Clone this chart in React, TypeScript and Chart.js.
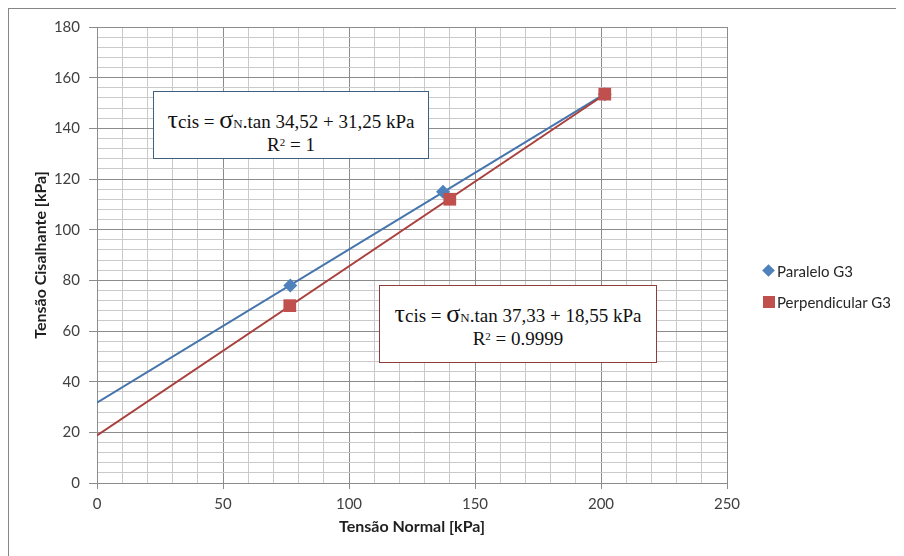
import React, { useEffect, useRef } from "react";
import { Chart, registerables } from "chart.js";

Chart.register(...registerables);

// ---- data ----
const paraleloX = [76.7, 137.3, 201.5];
const paraleloY = [78.0, 115.0, 153.5];
const perpX = [76.5, 140.0, 201.5];
const perpY = [70.0, 112.0, 153.5];

const seriesNames = ["Paralelo G3", "Perpendicular G3"];
const eq1 = ["34,52", "31,25", "1"];
const eq2 = ["37,33", "18,55", "0.9999"];

const xTitle = "Tensão Normal [kPa]";
const yTitle = "Tensão Cisalhante [kPa]";
const xMin = 0, xMax = 250, xMajor = 50, xMinor = 10;
const yMin = 0, yMax = 180, yMajor = 20, yMinor = 4;

const blueMarker = "#4F81BD";
const redMarker = "#C0504D";
const blueLine = "#4675AD";
const redLine = "#A9403D";
const majorGrid = "#8C8C8C";
const minorGrid = "#CACACA";

// least-squares trendline (what the spreadsheet trendline is)
function trend(xs: number[], ys: number[]) {
  const n = xs.length;
  const mx = xs.reduce((a, b) => a + b, 0) / n;
  const my = ys.reduce((a, b) => a + b, 0) / n;
  let sxy = 0, sxx = 0;
  for (let i = 0; i < n; i++) {
    sxy += (xs[i] - mx) * (ys[i] - my);
    sxx += (xs[i] - mx) * (xs[i] - mx);
  }
  const m = sxy / sxx;
  const b = my - m * mx;
  const x1 = Math.max(...xs);
  return [
    { x: 0, y: b },
    { x: x1, y: b + m * x1 },
  ];
}

const pts = (xs: number[], ys: number[]) => xs.map((x, i) => ({ x, y: ys[i] }));

const W = 895;
const H = 547;

export default function App() {
  const ref = useRef<HTMLCanvasElement | null>(null);

  useEffect(() => {
    if (!ref.current) return;
    const isMajor = (v: number, step: number) => Math.abs(v % step) < 1e-6;
    const chart = new Chart(ref.current, {
      type: "scatter",
      data: {
        datasets: [
          {
            label: seriesNames[0] + " trend",
            data: trend(paraleloX, paraleloY),
            showLine: true,
            borderColor: blueLine,
            borderWidth: 2,
            pointRadius: 0,
            order: 3,
          },
          {
            label: seriesNames[1] + " trend",
            data: trend(perpX, perpY),
            showLine: true,
            borderColor: redLine,
            borderWidth: 2,
            pointRadius: 0,
            order: 2,
          },
          {
            label: seriesNames[0],
            data: pts(paraleloX, paraleloY),
            pointStyle: "rectRot",
            pointRadius: 7,
            backgroundColor: blueMarker,
            borderColor: blueMarker,
            borderWidth: 0,
            order: 1,
          },
          {
            label: seriesNames[1],
            data: pts(perpX, perpY),
            pointStyle: "rect",
            pointRadius: 9,
            backgroundColor: redMarker,
            borderColor: redMarker,
            borderWidth: 0,
            order: 0,
          },
        ],
      },
      options: {
        animation: false,
        responsive: false,
        maintainAspectRatio: false,
        devicePixelRatio: 1,
        layout: { padding: { top: 18, right: 177, left: 0, bottom: 0 } },
        plugins: {
          legend: { display: false },
          tooltip: { enabled: false },
        },
        scales: {
          x: {
            type: "linear",
            min: xMin,
            max: xMax,
            afterFit: (s: any) => {
              s.height = 73;
            },
            ticks: {
              stepSize: xMinor,
              autoSkip: false,
              maxRotation: 0,
              padding: 6,
              color: "#404040",
              font: { family: "Lato", size: 15 },
              callback: (v: any) => (isMajor(Number(v), xMajor) ? String(v) : ""),
            },
            grid: {
              color: (c: any) => (isMajor(c.tick.value, xMajor) ? majorGrid : minorGrid),
              tickColor: (c: any) => (isMajor(c.tick.value, xMajor) ? majorGrid : "rgba(0,0,0,0)"),
              tickLength: 6,
              lineWidth: 1,
            },
            border: { color: majorGrid },
            title: {
              display: true,
              text: xTitle,
              color: "#1F1F1F",
              font: { family: "Lato", size: 16, weight: "bold" },
              padding: { top: 20, bottom: 20 },
            },
          },
          y: {
            type: "linear",
            min: yMin,
            max: yMax,
            afterFit: (s: any) => {
              s.width = 88;
            },
            ticks: {
              stepSize: yMinor,
              autoSkip: false,
              padding: 9,
              color: "#404040",
              font: { family: "Lato", size: 15 },
              callback: (v: any) => (isMajor(Number(v), yMajor) ? String(v) : ""),
            },
            grid: {
              color: (c: any) => (isMajor(c.tick.value, yMajor) ? majorGrid : minorGrid),
              tickColor: (c: any) => (isMajor(c.tick.value, yMajor) ? majorGrid : "rgba(0,0,0,0)"),
              tickLength: 8,
              lineWidth: 1,
            },
            border: { color: majorGrid },
            title: {
              display: true,
              text: yTitle,
              color: "#1F1F1F",
              font: { family: "Lato", size: 16, weight: "bold" },
              padding: { top: 22, bottom: 22 },
            },
          },
        },
      },
    } as any);
    return () => chart.destroy();
  }, []);

  const serif = "'Liberation Serif', 'Times New Roman', serif";
  const boxText = (angle: string, inter: string, r2: string) => (
    <>
      <div style={{ height: 23, lineHeight: "23px", whiteSpace: "nowrap" }}>
        <span style={{ fontSize: 26 }}>τ</span>cis = <span style={{ fontSize: 26 }}>σ</span>
        <span style={{ fontSize: 13 }}>N</span>.tan {angle} + {inter} kPa
      </div>
      <div style={{ height: 23, lineHeight: "23px", whiteSpace: "nowrap" }}>
        R<span style={{ fontSize: 11, verticalAlign: "5px" }}>2</span> = {r2}
      </div>
    </>
  );

  const boxBase: React.CSSProperties = {
    position: "absolute",
    background: "#FFFFFF",
    boxSizing: "border-box",
    display: "flex",
    flexDirection: "column",
    alignItems: "center",
    paddingTop: 16,
    fontFamily: serif,
    fontSize: 19,
    color: "#111111",
  };

  const legendText: React.CSSProperties = {
    position: "absolute",
    left: 768,
    fontFamily: "Lato",
    fontSize: 15,
    color: "#262626",
    lineHeight: "18px",
    whiteSpace: "nowrap",
  };

  return (
    <div
      style={{
        position: "relative",
        width: W,
        height: H,
        borderTop: "1px solid #868686",
        borderLeft: "1px solid #868686",
        background: "#FFFFFF",
      }}
    >
      <canvas
        ref={ref}
        width={W}
        height={H}
        style={{ position: "absolute", left: 0, top: 0, width: W, height: H }}
      />
      <div style={{ ...boxBase, left: 144, top: 82, width: 276, height: 68, border: "1px solid #3F5F80" }}>
        {boxText(eq1[0], eq1[1], eq1[2])}
      </div>
      <div style={{ ...boxBase, left: 370, top: 276, width: 278, height: 78, border: "1px solid #8E3B3B" }}>
        {boxText(eq2[0], eq2[1], eq2[2])}
      </div>
      {/* legend */}
      <div
        style={{
          position: "absolute",
          left: 755,
          top: 257,
          width: 9,
          height: 9,
          background: blueMarker,
          transform: "rotate(45deg)",
        }}
      />
      <div style={{ ...legendText, top: 253 }}>{seriesNames[0]}</div>
      <div
        style={{
          position: "absolute",
          left: 754,
          top: 287,
          width: 12,
          height: 12,
          background: redMarker,
        }}
      />
      <div style={{ ...legendText, top: 284 }}>{seriesNames[1]}</div>
    </div>
  );
}
